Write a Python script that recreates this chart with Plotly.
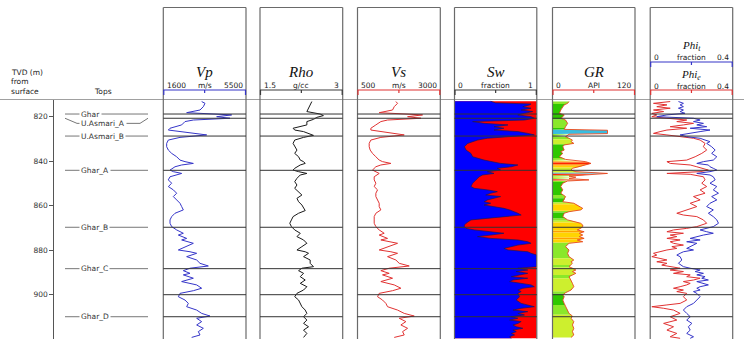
import plotly.graph_objects as go

# ---------------- data ----------------
VP_VS_DEPTH = [813.2, 814.0, 815.5, 817.0, 818.2, 818.8, 819.2, 820.0, 820.7, 821.5,
               822.2, 823.7, 825.2, 826.0, 826.7, 827.5, 828.2, 829.3, 830.5, 832.0,
               833.5, 835.0, 836.5, 838.0, 839.5, 840.2, 841.0, 841.7, 842.5, 844.0,
               844.7, 845.5, 847.0, 848.4, 849.9, 851.4, 852.9, 854.4, 855.9, 857.4,
               858.9, 860.4, 861.9, 863.4, 864.9, 866.4, 867.9, 869.4, 870.9, 872.4,
               873.2, 874.7, 875.4, 876.9, 878.4, 879.9, 880.7, 881.4, 882.9, 884.4,
               885.9, 887.1, 888.1, 889.2, 890.4, 891.1, 892.6, 894.1, 895.6, 897.1,
               898.2, 899.4, 900.9, 902.4, 903.9, 905.4, 906.9, 908.4, 909.6, 910.6,
               912.1, 913.6, 915.1, 916.6, 918.1, 919.2]
VP = [3410, 3566, 3488, 3331, 2702, 3802, 4824, 4117, 4745, 3016,
      2623, 2466, 1916, 1837, 2388, 2859, 3645, 2388, 1837, 1759,
      1759, 1837, 1995, 2230, 2388, 2623, 3016, 2466, 2152, 1916,
      2073, 2466, 1916, 1837, 1995, 1837, 2073, 2230, 2073, 2230,
      2388, 2466, 2545, 2152, 1995, 1916, 1916, 1995, 2230, 2545,
      2309, 2702, 2466, 3016, 2623, 2309, 2859, 3173, 2702, 3173,
      3331, 3724, 2859, 2545, 2859, 2545, 3016, 2466, 3173, 3409,
      3016, 2388, 2309, 2623, 2780, 2702, 3173, 3409, 3802, 3173,
      3409, 3173, 3488, 3252, 3331, 2938]
VS = [1659, 1709, 1609, 1558, 1155, 1911, 2465, 2012, 2415, 1407,
      1205, 1054, 903, 903, 1205, 1508, 1911, 1205, 903, 853,
      853, 883, 953, 1054, 1155, 1256, 1508, 1205, 1054, 953,
      1054, 1155, 1004, 1004, 1054, 1004, 1105, 1054, 1054, 1105,
      1155, 1155, 1205, 1054, 1004, 1004, 1004, 1054, 1155, 1306,
      1155, 1407, 1205, 1709, 1407, 1155, 1508, 1709, 1407, 1659,
      1760, 2062, 1457, 1205, 1457, 1256, 1558, 1205, 1609, 1810,
      1558, 1155, 1105, 1256, 1357, 1407, 1709, 1911, 2213, 1760,
      1961, 1810, 2012, 1861, 1911, 1609]

RHO_DEPTH = [813.2, 814.7, 816.2, 817.7, 818.8, 819.5, 820.3, 821.2, 822.2, 823.7,
             825.2, 826.0, 826.7, 827.5, 828.4, 829.3, 830.5, 832.0, 833.5, 835.0,
             836.5, 838.0, 839.5, 840.2, 841.0, 841.7, 843.2, 844.0, 844.7, 845.5,
             846.2, 847.7, 849.2, 850.7, 852.2, 853.7, 855.2, 856.7, 858.2, 859.7,
             861.2, 862.2, 863.4, 864.9, 866.4, 867.9, 869.4, 870.9, 872.4, 873.9,
             875.4, 876.9, 878.4, 879.9, 880.7, 881.4, 882.9, 884.4, 885.9, 887.4,
             888.1, 889.2, 890.4, 891.9, 893.4, 894.9, 896.4, 897.9, 899.4, 900.9,
             902.4, 903.9, 905.4, 906.9, 908.4, 909.9, 911.4, 912.9, 914.4, 915.9,
             917.4, 919.2]
RHO = [2.44, 2.41, 2.38, 2.35, 2.59, 2.65, 2.53, 2.47, 2.35, 2.35,
       2.10, 2.13, 2.29, 2.38, 2.47, 2.29, 2.13, 2.10, 2.13, 2.17,
       2.13, 2.20, 2.23, 2.29, 2.32, 2.23, 2.13, 2.10, 2.20, 2.35,
       2.23, 2.17, 2.13, 2.17, 2.13, 2.20, 2.26, 2.17, 2.20, 2.26,
       2.29, 2.32, 2.20, 2.10, 2.07, 2.04, 2.07, 2.13, 2.23, 2.17,
       2.29, 2.35, 2.26, 2.17, 2.32, 2.38, 2.29, 2.41, 2.41, 2.47,
       2.26, 2.20, 2.29, 2.23, 2.32, 2.23, 2.35, 2.29, 2.17, 2.13,
       2.20, 2.23, 2.26, 2.32, 2.35, 2.29, 2.35, 2.29, 2.38, 2.29,
       2.35, 2.29]

SW_DEPTH = [813.1, 813.8, 814.3, 814.7, 815.5, 816.2, 817.0, 817.7, 818.5, 819.2,
            820.0, 820.7, 821.5, 821.9, 822.2, 823.0, 823.7, 824.5, 825.2, 826.0,
            826.7, 827.5, 828.2, 829.0, 829.7, 830.5, 832.0, 833.5, 835.0, 836.5,
            838.0, 839.5, 841.0, 841.7, 842.5, 843.2, 844.0, 844.7, 845.5, 846.2,
            847.0, 848.4, 849.9, 851.4, 852.2, 852.9, 853.7, 854.4, 855.2, 855.9,
            856.7, 857.4, 858.2, 858.9, 859.7, 860.4, 861.2, 861.9, 862.7, 863.4,
            864.2, 864.9, 865.7, 866.4, 867.9, 868.7, 869.4, 870.2, 870.9, 871.7,
            872.4, 873.2, 873.9, 874.7, 875.4, 876.2, 876.9, 877.7, 878.4, 879.2,
            879.9, 880.7, 881.4, 882.2, 887.4, 888.1, 888.9, 889.6, 890.4, 891.1,
            891.9, 892.6, 893.4, 894.1, 894.9, 895.6, 896.4, 897.1, 897.9, 898.6,
            899.4, 900.9, 902.4, 903.9, 905.4, 906.1, 906.9, 907.6, 908.4, 909.1,
            909.9, 910.6, 911.4, 912.1, 912.9, 913.6, 914.4, 915.1, 915.9, 916.6,
            917.4, 918.1, 918.9, 919.6]
SW = [0.44, 0.50, 0.93, 0.91, 0.83, 0.93, 0.81, 0.95, 0.85, 0.77,
      0.93, 0.97, 0.85, 0.24, 0.22, 0.36, 0.65, 0.48, 0.60, 0.48,
      0.77, 0.89, 0.97, 0.65, 0.40, 0.28, 0.16, 0.12, 0.14, 0.20,
      0.22, 0.36, 0.56, 0.77, 0.69, 0.52, 0.56, 0.40, 0.48, 0.34,
      0.30, 0.26, 0.22, 0.20, 0.24, 0.40, 0.52, 0.44, 0.38, 0.56,
      0.48, 0.40, 0.36, 0.44, 0.36, 0.48, 0.60, 0.67, 0.73, 0.77,
      0.81, 0.60, 0.36, 0.20, 0.14, 0.12, 0.12, 0.14, 0.24, 0.48,
      0.60, 0.44, 0.28, 0.44, 0.77, 0.89, 0.93, 0.77, 0.69, 0.60,
      0.65, 0.89, 0.93, 1.00, 1.00, 0.77, 0.89, 0.75, 0.89, 0.77,
      0.69, 0.89, 0.71, 0.67, 0.81, 0.93, 0.97, 0.83, 0.77, 0.81,
      0.77, 0.79, 0.75, 0.81, 0.97, 0.81, 0.71, 0.89, 0.77, 0.85,
      0.69, 0.77, 0.67, 0.81, 0.77, 0.71, 0.75, 0.83, 0.71, 0.75,
      0.69, 0.73, 0.67, 0.69]

GR_DEPTH = [813.2, 814.0, 814.7, 815.5, 817.0, 818.5, 819.2, 820.0, 820.7, 821.5,
            823.0, 824.5, 825.7, 826.1, 827.6, 827.9, 828.4, 829.0, 829.7, 830.5,
            831.2, 832.0, 832.7, 833.5, 835.0, 835.7, 836.5, 838.0, 839.2, 839.8,
            840.2, 841.0, 841.7, 842.5, 843.2, 844.0, 844.7, 845.5, 845.9, 846.7,
            847.2, 847.8, 848.4, 848.9, 849.9, 851.4, 852.9, 854.4, 855.9, 857.4,
            858.2, 858.9, 859.7, 860.4, 861.2, 861.9, 862.7, 863.4, 864.9, 866.4,
            867.2, 867.9, 868.7, 869.4, 870.2, 870.9, 871.7, 872.4, 873.2, 873.9,
            874.7, 875.4, 876.2, 876.9, 878.4, 879.9, 881.4, 882.9, 884.4, 885.2,
            885.9, 887.4, 888.1, 888.9, 889.6, 890.4, 891.9, 893.4, 894.9, 896.4,
            897.9, 899.1, 900.1, 900.9, 902.4, 903.9, 905.4, 906.9, 908.4, 909.6,
            910.6, 912.1, 913.6, 915.1, 916.6, 918.1, 919.2]
GR = [24, 22, 17, 15, 12, 10, 17, 15, 12, 19,
      22, 19, 17, 80, 80, 24, 22, 19, 24, 29,
      27, 31, 17, 15, 17, 12, 15, 10, 19, 34,
      48, 56, 48, 41, 29, 27, 34, 80, 60, 24,
      34, 24, 53, 22, 15, 12, 15, 12, 19, 17,
      15, 31, 36, 39, 44, 41, 24, 17, 15, 22,
      34, 41, 44, 44, 41, 36, 46, 39, 44, 39,
      46, 36, 44, 24, 19, 24, 22, 24, 31, 27,
      29, 24, 29, 34, 29, 34, 24, 27, 29, 31,
      27, 19, 15, 17, 15, 17, 19, 22, 24, 29,
      27, 31, 29, 31, 29, 31, 27]
# GR colour classes: upper bound (API) -> fill colour
GR_CLASS_LIMITS = [18, 26, 36, 45, 52, 70, 999]
GR_CLASS_COLORS = ['#2ec800', '#8ae82a', '#cdef2e', '#ffd400', '#ffa000', '#ff2400', '#38bde0']

PHIT_DEPTH = [813.2, 814.0, 814.7, 815.5, 816.2, 817.0, 817.7, 818.5, 819.2, 820.0,
              820.7, 821.5, 822.2, 823.0, 823.7, 824.5, 825.2, 826.0, 826.7, 827.5,
              828.2, 829.0, 829.7, 830.5, 831.2, 832.0, 833.5, 835.0, 836.5, 838.0,
              839.5, 840.2, 841.0, 841.7, 842.5, 843.2, 844.0, 844.7, 845.5, 846.2,
              847.0, 848.4, 849.9, 851.4, 852.9, 854.4, 855.9, 857.4, 858.9, 860.4,
              861.9, 863.4, 864.9, 866.4, 867.9, 869.4, 870.2, 870.9, 871.7, 872.4,
              873.2, 873.9, 874.7, 875.4, 876.2, 876.9, 877.7, 878.4, 879.2, 879.9,
              880.7, 881.4, 882.2, 882.9, 884.4, 885.9, 887.4, 888.1, 888.9, 889.6,
              890.4, 891.1, 891.9, 892.6, 893.4, 894.1, 894.9, 895.6, 896.4, 897.1,
              897.9, 898.6, 899.4, 900.9, 902.4, 903.9, 905.4, 906.9, 908.4, 909.9,
              911.4, 912.9, 914.4, 915.9, 917.4, 918.9, 919.6]
PHIT = [0.137, 0.161, 0.145, 0.161, 0.137, 0.161, 0.145, 0.169, 0.081, 0.032,
        0.210, 0.242, 0.210, 0.258, 0.226, 0.274, 0.194, 0.290, 0.242, 0.177,
        0.145, 0.177, 0.242, 0.266, 0.290, 0.274,
        0.298, 0.315, 0.298, 0.323, 0.306, 0.258, 0.226, 0.282, 0.290, 0.306,
        0.323, 0.290, 0.226, 0.290, 0.306,
        0.315, 0.290, 0.323, 0.306, 0.331, 0.298, 0.323, 0.290, 0.274, 0.306,
        0.282, 0.306, 0.323, 0.331, 0.306,
        0.274, 0.242, 0.274, 0.306, 0.258, 0.226, 0.194, 0.242, 0.177, 0.226,
        0.210, 0.194, 0.177, 0.210, 0.161, 0.145, 0.129, 0.145,
        0.153, 0.137, 0.161,
        0.194, 0.242, 0.218, 0.258, 0.226, 0.266, 0.250, 0.282, 0.226, 0.258,
        0.282, 0.242, 0.226, 0.242, 0.210, 0.226,
        0.242, 0.226, 0.210, 0.177, 0.161, 0.177, 0.194, 0.177, 0.202, 0.185,
        0.194, 0.177, 0.210, 0.194]

PHIE_DEPTH = [813.2, 814.0, 814.7, 815.5, 816.2, 817.0, 817.7, 818.5, 819.2, 820.0,
              820.7, 821.5, 822.2, 823.0, 823.7, 824.5, 825.2, 826.0, 826.7, 827.5,
              828.2, 829.0, 829.7, 830.5,
              832.0, 833.5, 835.0, 836.5, 838.0, 839.5,
              840.2, 841.0, 841.7, 842.5, 843.2, 844.0, 844.7, 845.5, 845.9, 847.0,
              848.4, 849.9, 851.4, 852.9, 854.4, 855.9, 857.4, 858.9, 860.4, 861.9, 863.4,
              864.2, 864.9, 866.4, 867.9, 869.4,
              870.2, 870.9, 871.7, 872.4, 873.2, 873.9, 874.7, 875.4, 876.2, 876.9,
              877.7, 878.4, 879.2, 879.9, 880.7, 881.4, 882.2, 882.9, 883.7, 884.4,
              885.2, 885.9, 886.7, 887.4, 888.1, 888.9, 889.6, 890.4, 891.1, 891.9,
              892.6, 893.4, 894.1, 894.9, 895.6, 896.4, 897.1, 897.9, 898.6, 899.4,
              900.9, 902.4, 903.9, 904.6, 905.4, 906.1, 906.9,
              908.4, 909.9, 911.4, 912.9, 914.4, 915.9, 917.4, 918.9, 919.6]
PHIE = [0.097, 0.016, 0.081, 0.032, 0.097, 0.016, 0.065, 0.008, 0.032, 0.008,
        0.081, 0.177, 0.129, 0.210, 0.161, 0.097, 0.177, 0.081, 0.048, 0.016,
        0.081, 0.145, 0.210, 0.242,
        0.266, 0.258, 0.274, 0.250, 0.218, 0.177,
        0.081, 0.097, 0.194, 0.226, 0.258, 0.282, 0.242, 0.081, 0.194, 0.258,
        0.266, 0.250, 0.274, 0.242, 0.266, 0.210, 0.242, 0.194, 0.226, 0.177, 0.129,
        0.161, 0.226, 0.258, 0.274, 0.226,
        0.177, 0.113, 0.081, 0.161, 0.097, 0.129, 0.081, 0.145, 0.097, 0.113,
        0.161, 0.105, 0.129, 0.081, 0.048, 0.016, 0.032, 0.008, 0.048, 0.081,
        0.032, 0.081, 0.056, 0.113, 0.145, 0.097, 0.161, 0.113, 0.194, 0.177,
        0.242, 0.210, 0.161, 0.194, 0.177, 0.145, 0.113, 0.161, 0.129, 0.177,
        0.161, 0.177, 0.145, 0.081, 0.008, 0.065, 0.113,
        0.145, 0.097, 0.129, 0.065, 0.113, 0.081, 0.129, 0.097, 0.145]

TOP_NAMES = ["Ghar", "U.Asmari_A", "U.Asmari_B", "Ghar_A", "Ghar_B", "Ghar_C", "Ghar_D"]
TOP_DEPTHS = [818.8, 820.7, 828.7, 844.1, 869.7, 888.3, 909.9]
UASMARI_A_LABEL_DEPTH = 823.0
EXTRA_MARKERS = [900.0]
DEPTH_TICKS = [820, 840, 860, 880, 900]

for a, b in [(VP_VS_DEPTH, VP), (VP_VS_DEPTH, VS), (RHO_DEPTH, RHO), (SW_DEPTH, SW),
             (GR_DEPTH, GR), (PHIT_DEPTH, PHIT), (PHIE_DEPTH, PHIE)]:
    assert len(a) == len(b), (len(a), len(b))

# ---------------- layout helpers ----------------
W, H = 744, 350
def px(x): return x / W
def py(y): return 1 - y / H

BLUE = '#3535c8'
RED = '#e03232'
BLACK = '#3a3a3a'
BORDER = '#6a6a6a'
SANS = 'DejaVu Sans'
SERIF = 'Liberation Serif'

TRACKS = [
    dict(title="Vp", lo=1600, hi=5500, llab="1600", unit="m/s", rlab="5500", color=BLUE, l=163.3, r=246.0),
    dict(title="Rho", lo=1.5, hi=3, llab="1.5", unit="g/cc", rlab="3", color=BLACK, l=260.0, r=342.7),
    dict(title="Vs", lo=500, hi=3000, llab="500", unit="m/s", rlab="3000", color=RED, l=357.5, r=440.3),
    dict(title="Sw", lo=0, hi=1, llab="0", unit="fraction", rlab="1", color=BLACK, l=454.5, r=536.8),
    dict(title="GR", lo=0, hi=120, llab="0", unit="API", rlab="120", color=RED, l=552.5, r=635.0),
    dict(title="Phi", lo=0, hi=0.4, llab="0", unit="fraction", rlab="0.4", color=RED, l=650.2, r=732.7),
]
Y_TOP_PX, Y_BOT_PX = 100.0, 339.2
DEPTH_RANGE = [920.0, 812.5]

fig = go.Figure()
layout = dict(width=W, height=H, margin=dict(l=0, r=0, t=0, b=0),
              paper_bgcolor='white', plot_bgcolor='white', showlegend=False,
              hovermode=False)
for i, tr in enumerate(TRACKS):
    key = 'xaxis' if i == 0 else f'xaxis{i+1}'
    layout[key] = dict(domain=[px(tr['l']), px(tr['r'])], range=[tr['lo'], tr['hi']],
                       visible=False, anchor='y', fixedrange=True)
layout['yaxis'] = dict(domain=[py(Y_BOT_PX), py(Y_TOP_PX)], range=DEPTH_RANGE,
                       anchor='free', position=px(53.3), side='left',
                       showline=True, linecolor='#555', linewidth=1,
                       ticks='outside', ticklen=4, tickcolor='#555',
                       tickvals=DEPTH_TICKS, ticktext=[str(t) for t in DEPTH_TICKS],
                       tickfont=dict(size=7.5, family=SANS, color='#333'),
                       showgrid=False, zeroline=False, fixedrange=True)

# ---------------- traces ----------------
fig.add_trace(go.Scatter(x=VP, y=VP_VS_DEPTH, xaxis='x', yaxis='y', mode='lines',
                         line=dict(color=BLUE, width=1)))
fig.add_trace(go.Scatter(x=RHO, y=RHO_DEPTH, xaxis='x2', yaxis='y', mode='lines',
                         line=dict(color='#1a1a1a', width=1)))
fig.add_trace(go.Scatter(x=VS, y=VP_VS_DEPTH, xaxis='x3', yaxis='y', mode='lines',
                         line=dict(color=RED, width=1)))
# Sw: blue (water) from 0 to Sw, red (hydrocarbon) beyond
fig.add_trace(go.Scatter(x=SW, y=SW_DEPTH, xaxis='x4', yaxis='y', mode='lines',
                         fill='tozerox', fillcolor='#0000ff',
                         line=dict(color='#1a1a5a', width=0.7)))

# GR: colour-coded fill, each sample colouring the half-intervals around it
def gr_color(v):
    for lim, col in zip(GR_CLASS_LIMITS, GR_CLASS_COLORS):
        if v < lim:
            return col
    return GR_CLASS_COLORS[-1]

polys = {}
n = len(GR)
for i in range(n):
    d, g = GR_DEPTH[i], GR[i]
    col = gr_color(g)
    xs, ys = polys.setdefault(col, ([], []))
    if i > 0:
        dm = (GR_DEPTH[i - 1] + d) / 2
        gm = (GR[i - 1] + g) / 2
        xs += [0, gm, g, 0, None]
        ys += [dm, dm, d, d, None]
    if i < n - 1:
        dm = (GR_DEPTH[i + 1] + d) / 2
        gm = (GR[i + 1] + g) / 2
        xs += [0, g, gm, 0, None]
        ys += [d, d, dm, dm, None]
for col, (xs, ys) in polys.items():
    fig.add_trace(go.Scatter(x=xs, y=ys, xaxis='x5', yaxis='y', mode='lines',
                             fill='toself', fillcolor=col, line=dict(width=0)))
fig.add_trace(go.Scatter(x=GR, y=GR_DEPTH, xaxis='x5', yaxis='y', mode='lines',
                         line=dict(color='#e8461e', width=0.9)))

fig.add_trace(go.Scatter(x=PHIE, y=PHIE_DEPTH, xaxis='x6', yaxis='y', mode='lines',
                         line=dict(color=RED, width=1)))
fig.add_trace(go.Scatter(x=PHIT, y=PHIT_DEPTH, xaxis='x6', yaxis='y', mode='lines',
                         line=dict(color=BLUE, width=1)))

# ---------------- shapes ----------------
shapes = []
def pline(x0, y0, x1, y1, color, width=1):
    shapes.append(dict(type='line', xref='paper', yref='paper', x0=px(x0), y0=py(y0),
                       x1=px(x1), y1=py(y1), line=dict(color=color, width=width)))

# red hydrocarbon background of the Sw track
shapes.append(dict(type='rect', xref='x4', yref='y', x0=0, x1=1,
                   y0=SW_DEPTH[0], y1=SW_DEPTH[-1], fillcolor='#ff0000',
                   line=dict(width=0), layer='below'))

# header / data separator
pline(0, 99.5, W, 99.5, '#a0a0a0', 1)

for tr in TRACKS:
    l, r = tr['l'], tr['r']
    pline(l, 7.5, r, 7.5, BORDER, 1)
    pline(l, 7.5, l, 339, BORDER, 1.2)
    pline(r, 7.5, r, 339, BORDER, 1.2)
    # formation marker lines inside the track
    for d in TOP_DEPTHS + EXTRA_MARKERS:
        shapes.append(dict(type='line', xref='paper', yref='y', x0=px(l), x1=px(r),
                           y0=d, y1=d, line=dict(color='#333', width=1)))

def scale_line(l, r, y, color):
    pline(l, y, r, y, color, 1.2)
    pline(l + 0.5, y, l + 0.5, y + 5, color, 1.2)
    pline(r - 0.5, y, r - 0.5, y + 5, color, 1.2)
    pline((l + r) / 2, y, (l + r) / 2, y + 3, color, 1.2)

for tr in TRACKS[:5]:
    scale_line(tr['l'], tr['r'], 90, tr['color'])
phi = TRACKS[5]
scale_line(phi['l'], phi['r'], 62, BLUE)
scale_line(phi['l'], phi['r'], 90, RED)

# tops column lines
TOPS_L, TOPS_R = 65, 148
for name, d in zip(TOP_NAMES, TOP_DEPTHS):
    if name == "U.Asmari_A":
        dl = UASMARI_A_LABEL_DEPTH
        for (x0, y0, x1, y1) in [(TOPS_L, d, 77, dl), (77, dl, 140, dl), (140, dl, TOPS_R, d)]:
            shapes.append(dict(type='line', xref='paper', yref='y', x0=px(x0), x1=px(x1),
                               y0=y0, y1=y1, line=dict(color='#777', width=1)))
    else:
        shapes.append(dict(type='line', xref='paper', yref='y', x0=px(TOPS_L), x1=px(TOPS_R),
                           y0=d, y1=d, line=dict(color='#777', width=1)))

# ---------------- annotations ----------------
ann = []
def ptext(text, x, y, size=7.5, xanchor='center', family=SANS, color='#222', **kw):
    ann.append(dict(text=text, x=px(x), y=py(y), xref='paper', yref='paper',
                    xanchor=xanchor, yanchor='middle', showarrow=False,
                    font=dict(size=size, family=family, color=color), **kw))

ptext("TVD (m)", 9, 72, xanchor='left')
ptext("from", 9, 81.5, xanchor='left')
ptext("surface", 9, 91.5, xanchor='left')
ptext("Tops", 103, 91.5)

for tr in TRACKS[:5]:
    l, r = tr['l'], tr['r']
    c = (l + r) / 2
    ptext(f"<i>{tr['title']}</i>", c, 72, size=15, family=SERIF, color='#111')
    ptext(tr['llab'], l + 1.5, 85.5, xanchor='left')
    ptext(tr['unit'], c, 85.5)
    ptext(tr['rlab'], r - 1.5, 85.5, xanchor='right')

l, r = phi['l'], phi['r']
c = (l + r) / 2
ptext("<i>Phi<sub>t</sub></i>", c, 46, size=11, family=SERIF, color='#111')
ptext("0", l + 1.5, 57.5, xanchor='left')
ptext("fraction", c, 57.5)
ptext("0.4", r - 1.5, 57.5, xanchor='right')
ptext("<i>Phi<sub>e</sub></i>", c, 74.5, size=11, family=SERIF, color='#111')
ptext("0", l + 1.5, 86, xanchor='left')
ptext("fraction", c, 86)
ptext("0.4", r - 1.5, 86, xanchor='right')

for name, d in zip(TOP_NAMES, TOP_DEPTHS):
    yd = UASMARI_A_LABEL_DEPTH if name == "U.Asmari_A" else d
    ann.append(dict(text=name, x=px(79), y=yd, xref='paper', yref='y',
                    xanchor='left', yanchor='middle', showarrow=False,
                    bgcolor='white', borderpad=1,
                    font=dict(size=7.5, family=SANS, color='#333')))

layout['shapes'] = shapes
layout['annotations'] = ann
fig.update_layout(**layout)
fig.write_html("out.html", config={'displayModeBar': False, 'staticPlot': True},
               post_script="document.body.style.margin='0';document.body.style.padding='0';")
